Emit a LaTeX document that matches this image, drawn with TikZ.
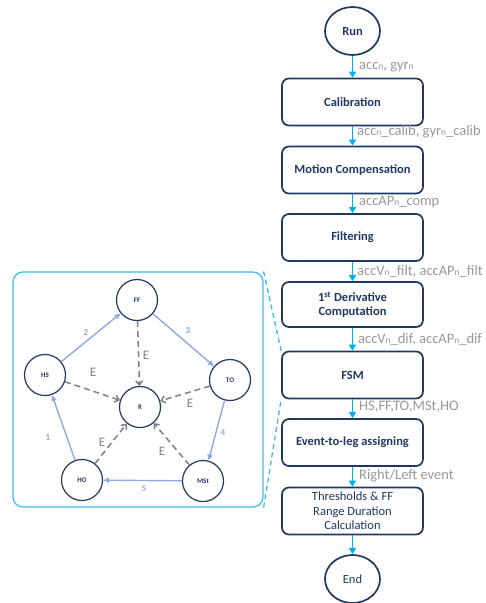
\documentclass[tikz,border=0pt]{standalone}
\usepackage{fontspec}
\setmainfont{Carlito}
\usetikzlibrary{arrows.meta,shapes.geometric}
\definecolor{navy}{HTML}{1F3864}
\definecolor{flowblue}{HTML}{00B0F0}
\definecolor{labelgray}{HTML}{989898}
\definecolor{cyclecol}{HTML}{8FAADC}
\definecolor{panelblue}{HTML}{3DB9EC}
\definecolor{dashgray}{HTML}{7F7F7F}
% small "n" index used in the signal names
\newcommand{\idx}{{\fontsize{9.5}{9.5}\selectfont n}}
\begin{document}
\begin{tikzpicture}[x=1pt,y=-1pt,
  stepbox/.style={draw=navy, line width=1.7pt, rounded corners=7pt,
    minimum width=141pt, minimum height=47pt, inner sep=2pt,
    font=\bfseries\fontsize{12.5}{14}\selectfont, text=navy, align=center},
  terminal/.style={ellipse, draw=navy, line width=1.7pt,
    minimum width=55pt, minimum height=48pt, inner sep=0pt,
    font=\bfseries\fontsize{12.5}{13}\selectfont, text=navy},
  flow/.style={draw=flowblue, line width=1.8pt,
    -{Triangle[length=6pt,width=7pt]}},
  datalbl/.style={anchor=west, text=labelgray, inner sep=0pt,
    font=\fontsize{14.5}{15}\selectfont},
  state/.style={circle, draw=navy, line width=1.2pt, minimum size=41pt,
    inner sep=0pt, font=\bfseries\fontsize{7}{8}\selectfont, text=navy},
  cycle/.style={draw=cyclecol, line width=1.4pt,
    -{Triangle[length=6pt,width=5pt]}},
  cyclbl/.style={text=cyclecol, inner sep=0pt, font=\bfseries\fontsize{9}{10}\selectfont},
  toR/.style={draw=dashgray, line width=1.5pt, dash pattern=on 6pt off 4pt,
    -{Straight Barb[length=4pt,width=7pt]}},
  elbl/.style={text=dashgray, inner sep=0pt, font=\fontsize{13}{14}\selectfont},
  callout/.style={draw=panelblue, line width=1.3pt, dash pattern=on 5pt off 3.5pt}
]
\useasboundingbox (0,0) rectangle (486,603);

% ---- main processing chain ----
\node[terminal] (run) at (352.5,31) {Run};
\node[stepbox] (calib)  at (352.5,102)   {Calibration};
\node[stepbox] (motion) at (352.5,170)   {Motion Compensation};
\node[stepbox] (filt)   at (352.5,237.5) {Filtering};
\node[stepbox, minimum height=45pt] (deriv) at (352.5,304.5)
  {1\textsuperscript{st} Derivative\\Computation};
\node[stepbox] (fsm)    at (352.5,375)   {FSM};
\node[stepbox] (leg)    at (352.5,442.5) {Event-to-leg assigning};
\node[stepbox, font=\fontsize{12.5}{14.5}\selectfont] (thr) at (352.5,511)
  {Thresholds \& FF\\Range Duration\\Calculation};
\node[terminal, font=\fontsize{12.5}{13}\selectfont] (end) at (352.5,579) {End};

\draw[flow] (run) -- (calib);
\draw[flow] (calib) -- (motion);
\draw[flow] (motion) -- (filt);
\draw[flow] (filt) -- (deriv);
\draw[flow] (deriv) -- (fsm);
\draw[flow] (fsm) -- (leg);
\draw[flow] (leg) -- (thr);
\draw[flow] (thr) -- (end);

\node[datalbl] (l1) at (359,67)  {acc\idx, gyr\idx};
\node[datalbl] (l2) at (357,132) {acc\idx\_calib, gyr\idx\_calib};
\node[datalbl] (l3) at (359,202) {accAP\idx\_comp};
\node[datalbl] (l4) at (357,271) {accV\idx\_filt, accAP\idx\_filt};
\node[datalbl] (l5) at (358,339) {accV\idx\_dif, accAP\idx\_dif};
\node[datalbl] (l6) at (359,407) {HS,FF,TO,MSt,HO};
\node[datalbl] (l7) at (359,476) {Right/Left event};

% ---- FSM detail panel ----
\node[draw=panelblue, line width=1.2pt, rounded corners=10pt,
  minimum width=250pt, minimum height=235pt, inner sep=0pt] (panel) at (138,389.5) {};
\draw[callout] (panel.north east) -- (fsm.north west);
\draw[callout] (panel.south east) -- (fsm.south west);

\node[state] (FF)  at (137,300) {FF};
\node[state] (HS)  at (45,375)  {HS};
\node[state] (TO)  at (230,380) {TO};
\node[state] (R)   at (140,407) {R};
\node[state] (HO)  at (82,480)  {HO};
\node[state] (MSt) at (203,481) {MSt};

\draw[cycle] (HO) -- (HS);
\draw[cycle] (HS) -- (FF);
\draw[cycle] (FF) -- (TO);
\draw[cycle] (TO) -- (MSt);
\draw[cycle] (MSt) -- (HO);

\node[cyclbl] (n1) at (48,438)  {1};
\node[cyclbl] (n2) at (86,333)  {2};
\node[cyclbl] (n3) at (188,331) {3};
\node[cyclbl] (n4) at (223,433) {4};
\node[cyclbl] (n5) at (144,489) {5};

\draw[toR] (FF) -- (R);
\draw[toR] (HS) -- (R);
\draw[toR] (TO) -- (R);
\draw[toR] (HO) -- (R);
\draw[toR] (MSt) -- (R);

\node[elbl] (e1) at (146,355) {E};
\node[elbl] (e2) at (93,372)  {E};
\node[elbl] (e3) at (190,403) {E};
\node[elbl] (e4) at (102,442) {E};
\node[elbl] (e5) at (162,451) {E};
\end{tikzpicture}
\end{document}
